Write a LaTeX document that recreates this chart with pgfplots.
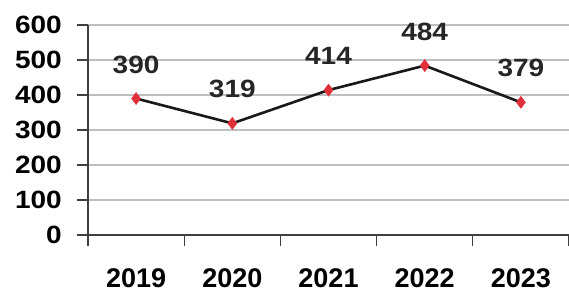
\documentclass[border=0pt]{standalone}
\usepackage{pgfplots}
\pgfplotsset{compat=1.18}
\usepackage{fontspec}
\setmainfont{Liberation Sans}
\newfontfamily\wide[FakeStretch=1.12]{Liberation Sans}
\definecolor{mred}{HTML}{E0303A}
\definecolor{grid}{HTML}{404040}
\begin{document}
\begin{tikzpicture}
\begin{axis}[
  name=ax,
  scale only axis,
  width=481pt, height=210pt,
  xmin=-0.5, xmax=4.5,
  ymin=0, ymax=600,
  axis x line=bottom, axis y line=left,
  axis line style={-, grid, line width=1.3pt},
  ytick={0,100,...,600},
  xtick={0,1,2,3,4},
  xticklabels={2019,2020,2021,2022,2023},
  minor xtick={-0.5,0.5,1.5,2.5,3.5,4.5},
  xmajorgrids=false, xminorgrids=false,
  major x tick style={draw=none},
  minor x tick style={draw=grid, line width=1.3pt},
  minor tick length=11pt,
  y tick style={draw=grid, line width=1.3pt},
  major tick length=11pt,
  tick align=outside,
  ymajorgrids,
  major grid style={grid, line width=1.3pt},
  /pgf/number format/assume math mode=true,
  yticklabel style={font=\fontsize{25}{25}\selectfont\wide\bfseries, anchor=east, inner sep=0pt, xshift=-15pt},
  xticklabel style={font=\fontsize{27}{27}\selectfont\bfseries, anchor=north, inner sep=0pt, yshift=-22pt},
  clip=false,
]
\addplot[black!90, line width=2.6pt, mark=diamond*, mark size=6pt,
  mark options={fill=mred, draw=mred, line width=0.5pt},
  nodes near coords,
  every node near coord/.style={font=\fontsize{25}{25}\selectfont\wide\bfseries, color=black!85, anchor=center, yshift=34pt}]
coordinates {(0,390) (1,319) (2,414) (3,484) (4,379)};
\end{axis}
\pgfresetboundingbox
\path ([shift={(-88pt,-59pt)}]ax.south west) rectangle ([shift={(0pt,25pt)}]ax.north east);
\end{tikzpicture}
\end{document}
